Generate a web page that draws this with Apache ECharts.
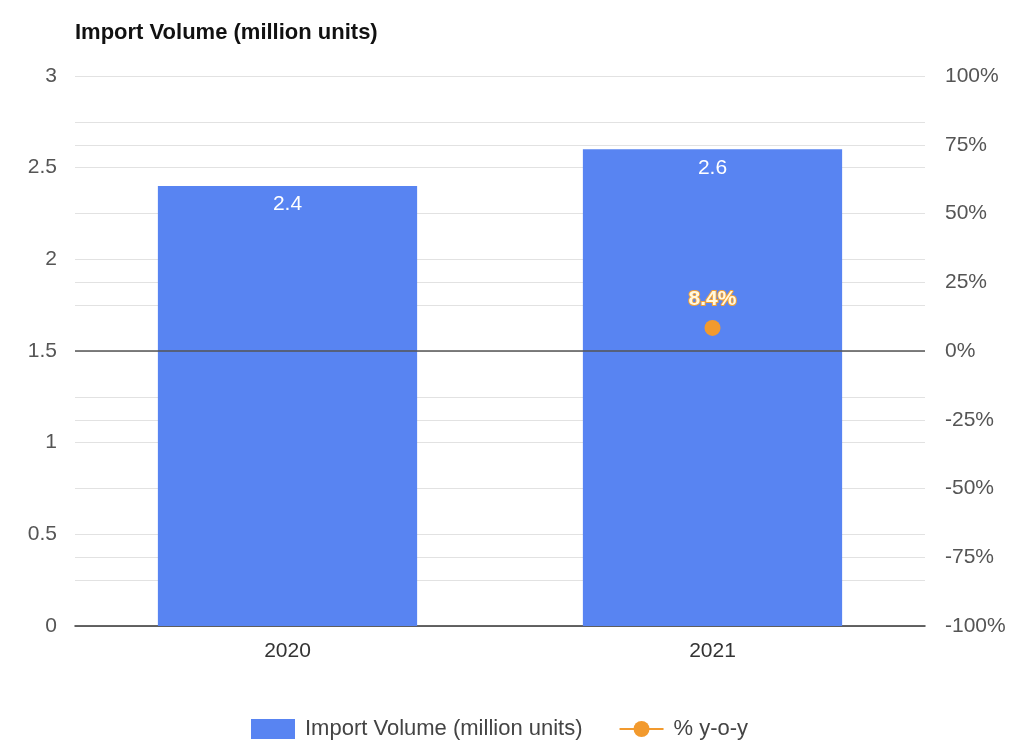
<!DOCTYPE html>
<html><head><meta charset="utf-8">
<script src="https://cdn.jsdelivr.net/npm/echarts@6/dist/echarts.min.js"></script>
<style>html,body{margin:0;padding:0;background:#fff}#c{width:1018px;height:743px}</style>
</head><body><div id="c"></div>
<script>
const categories = ['2020', '2021'];
const importVolume = [2.4, 2.6];
const yoy = [null, 8.4];
const yoyLabels = ['', '8.4%'];

const chart = echarts.init(document.getElementById('c'));
const font = 'Liberation Sans, Arial, sans-serif';
chart.setOption({
  animation: false,
  textStyle: { fontFamily: font },
  title: {
    text: 'Import Volume (million units)',
    left: 70, top: 17,
    textStyle: { fontSize: 22, fontWeight: 'bold', color: '#111', fontFamily: font }
  },
  legend: {
    top: 713, left: 246, itemGap: 36, itemWidth: 44, itemHeight: 20,
    textStyle: { fontSize: 22, color: '#444', fontFamily: font, padding: [0, 0, 0, 5] },
    data: [
      { name: 'Import Volume (million units)', icon: 'rect' },
      { name: '% y-o-y' }
    ]
  },
  grid: { left: 75, right: 93, top: 76, bottom: 117 },
  xAxis: {
    type: 'category', data: categories,
    axisLine: { lineStyle: { color: '#333', width: 1.5 } },
    axisTick: { show: false },
    axisLabel: { fontSize: 21, color: '#333', margin: 15 }
  },
  yAxis: [
    {
      type: 'value', min: 0, max: 3, interval: 0.25,
      axisLine: { show: false }, axisTick: { show: false },
      axisLabel: { fontSize: 21, color: '#555', margin: 18,
        formatter: v => (Math.round(v * 100) % 50 === 0 ? String(v) : '') },
      splitLine: { lineStyle: { color: '#e2e2e2', width: 1 } }
    },
    {
      type: 'value', min: -100, max: 100, interval: 25,
      axisLine: { show: false }, axisTick: { show: false },
      axisLabel: { fontSize: 21, color: '#555', margin: 20, formatter: v => v + '%' },
      splitLine: { lineStyle: { color: '#e2e2e2', width: 1 } }
    }
  ],
  series: [
    {
      name: 'Import Volume (million units)', type: 'bar', data: importVolume,
      barWidth: '61%', itemStyle: { color: '#5884f2' },
      label: { show: true, position: 'insideTop', distance: 8, color: '#fff', fontSize: 21 }
    },
    {
      name: '% y-o-y', type: 'line', yAxisIndex: 1, data: yoy,
      symbol: 'circle', symbolSize: 16, z: 5,
      itemStyle: { color: '#f29a2e' }, lineStyle: { color: '#f29a2e', width: 4 },
      label: { show: true, position: 'top', distance: 10, fontSize: 21, fontWeight: 'bold',
        color: '#fff8e0', textBorderColor: '#f2a236', textBorderWidth: 2,
        formatter: p => yoyLabels[p.dataIndex] },
      markLine: { silent: true, symbol: 'none', label: { show: false },
        lineStyle: { color: '#555', width: 1.5, type: 'solid' }, data: [{ yAxis: 0 }] }
    }
  ]
});
</script></body></html>
